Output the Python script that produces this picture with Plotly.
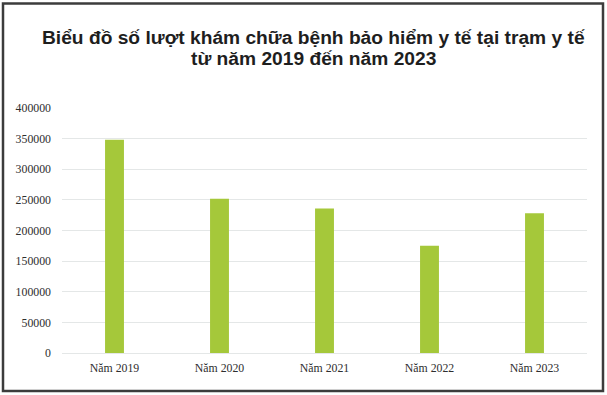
import plotly.graph_objects as go

categories = ["Năm 2019", "Năm 2020", "Năm 2021", "Năm 2022", "Năm 2023"]
values = [348000, 252000, 236000, 175000, 228000]
y_ticks = [0, 50000, 100000, 150000, 200000, 250000, 300000, 350000, 400000]
title_lines = ["Biểu đồ số lượt khám chữa bệnh bảo hiểm y tế tại trạm y tế",
               "từ năm 2019 đến năm 2023"]

W, H = 607, 395
ml, mr, mt, mb = 62, 20, 108, 42
pw, ph = W - ml - mr, H - mt - mb


def py(pix):
    return (H - mb - pix) / ph


def px(pix):
    return (pix - ml) / pw


fig = go.Figure(go.Bar(x=categories, y=values, marker_color="#A5C83A", marker_line_width=0))

fig.update_layout(
    width=W, height=H,
    margin=dict(l=ml, r=mr, t=mt, b=mb),
    paper_bgcolor="white", plot_bgcolor="white",
    bargap=0.82,
    showlegend=False,
    font=dict(family="Liberation Serif", size=11.8, color="#2e2e2e"),
)
for line, ypix in zip(title_lines, [37, 58]):
    fig.add_annotation(text=line, xref="paper", yref="paper", x=px(313), y=py(ypix),
                       xanchor="center", yanchor="middle", showarrow=False,
                       font=dict(family="Liberation Sans", size=19.2, color="#1e1e1e", weight="bold"))

fig.update_yaxes(range=[0, 400000], tickvals=y_ticks, ticktext=[str(v) for v in y_ticks],
                 showgrid=True, gridcolor="#e4e7e7", gridwidth=1.2, zeroline=True,
                 zerolinecolor="#e4e7e7", zerolinewidth=1.2, showline=False, ticks="", ticklabelstandoff=10)
fig.update_xaxes(showgrid=False, showline=False, ticks="", ticklabelstandoff=6)

fig.add_shape(type="rect", xref="paper", yref="paper",
              x0=px(3), x1=px(603), y0=py(391), y1=py(3.5),
              line=dict(color="#3c3c3c", width=2.5), fillcolor="rgba(0,0,0,0)", layer="above")

post = ("document.body.style.margin='0';"
        "var d=document.getElementById('{plot_id}');"
        "d.style.boxShadow='inset 0 2px 0 0 white, inset 0 4.5px 0 0 #3c3c3c';")

fig.write_html("out.html", config={"displayModeBar": False}, post_script=post)
